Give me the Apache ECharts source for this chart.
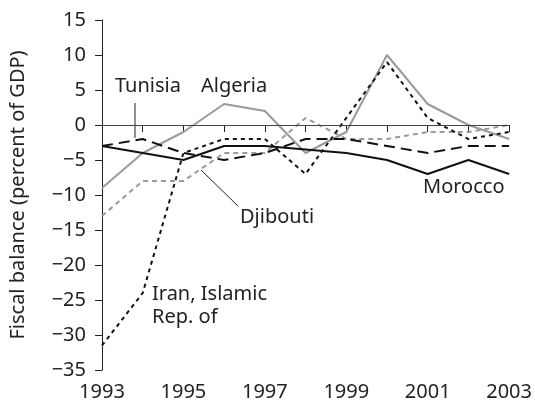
<!DOCTYPE html>
<html>
<head>
<meta charset="utf-8">
<script src="https://cdn.jsdelivr.net/npm/echarts@6/dist/echarts.min.js"></script>
<style>
  html, body { margin: 0; padding: 0; background: #fff; }
  #chart { width: 535px; height: 412px; }
</style>
</head>
<body>
<div id="chart"></div>
<script>
// years and fiscal balances (percent of GDP)
var years = ['1993', '1994', '1995', '1996', '1997', '1998', '1999', '2000', '2001', '2002', '2003']
var morocco = [-3, -4, -5, -3, -3, -3.5, -4, -5, -7, -5, -7]
var tunisia = [-3, -2, -4, -5, -4, -2, -2, -3, -4, -3, -3]
var iran = [-31.5, -24, -4, -2, -2, -7, 1, 9, 1, -2, -1]
var algeria = [-9, -4, -1, 3, 2, -4, -1, 10, 3, 0, -2]
var djibouti = [-13, -8, -8, -4, -4, 1, -2, -2, -1, -1, 0]

var FONT = '"Noto Sans", sans-serif'
var chart = echarts.init(document.getElementById('chart'))

function lineSeries (name, data, color, dash) {
  return {
    name: name,
    type: 'line',
    data: data,
    symbol: 'none',
    silent: true,
    lineStyle: { color: color, width: 2, type: dash }
  }
}

var series = [
  lineSeries('Djibouti', djibouti, '#9a9a9a', [5, 4]),
  lineSeries('Algeria', algeria, '#9a9a9a', 'solid'),
  lineSeries('Iran', iran, '#111', [4, 4]),
  lineSeries('Tunisia', tunisia, '#111', [11, 6]),
  lineSeries('Morocco', morocco, '#111', 'solid')
]
// zero reference line
series[0].markLine = {
  silent: true,
  symbol: 'none',
  label: { show: false },
  lineStyle: { color: '#444', width: 1, type: 'solid' },
  data: [{ yAxis: 0 }]
}

var option = {
  animation: false,
  textStyle: { fontFamily: FONT },
  grid: { left: 102, right: 22, top: 20, bottom: 42 },
  xAxis: {
    type: 'category',
    data: years,
    boundaryGap: false,
    axisLine: { lineStyle: { color: '#222', width: 1 } },
    axisTick: { length: 7, interval: 0, lineStyle: { color: '#222' } },
    axisLabel: { interval: 1, margin: 12, color: '#222', fontSize: 20, fontFamily: FONT },
    splitLine: { show: false }
  },
  yAxis: {
    type: 'value',
    min: -35,
    max: 15,
    interval: 5,
    name: 'Fiscal balance (percent of GDP)',
    nameLocation: 'middle',
    nameRotate: 90,
    nameGap: 74,
    nameTextStyle: { color: '#222', fontSize: 20, fontFamily: FONT },
    axisLine: { show: true, lineStyle: { color: '#222', width: 1 } },
    axisTick: { show: true, length: 7, lineStyle: { color: '#222' } },
    axisLabel: {
      margin: 16,
      color: '#222',
      fontSize: 20,
      fontFamily: FONT,
      formatter: function (v) { return String(v).replace('-', '\u2212') }
    },
    splitLine: { show: false }
  },
  series: series,
  graphic: [
    { type: 'text', left: 115, top: 76, style: { text: 'Tunisia', font: '20px ' + FONT, fill: '#222' } },
    { type: 'text', left: 201, top: 76, style: { text: 'Algeria', font: '20px ' + FONT, fill: '#222' } },
    { type: 'text', left: 240, top: 207, style: { text: 'Djibouti', font: '20px ' + FONT, fill: '#222' } },
    { type: 'text', left: 423, top: 177, style: { text: 'Morocco', font: '20px ' + FONT, fill: '#222' } },
    { type: 'text', left: 152, top: 283, style: { text: 'Iran, Islamic\nRep. of', font: '20px ' + FONT, fill: '#222', lineHeight: 23 } },
    { type: 'line', shape: { x1: 135, y1: 103, x2: 135, y2: 138 }, style: { stroke: '#222', lineWidth: 1 } },
    { type: 'line', shape: { x1: 201, y1: 170, x2: 238, y2: 206 }, style: { stroke: '#222', lineWidth: 1 } }
  ]
}
chart.setOption(option)
</script>
</body>
</html>
